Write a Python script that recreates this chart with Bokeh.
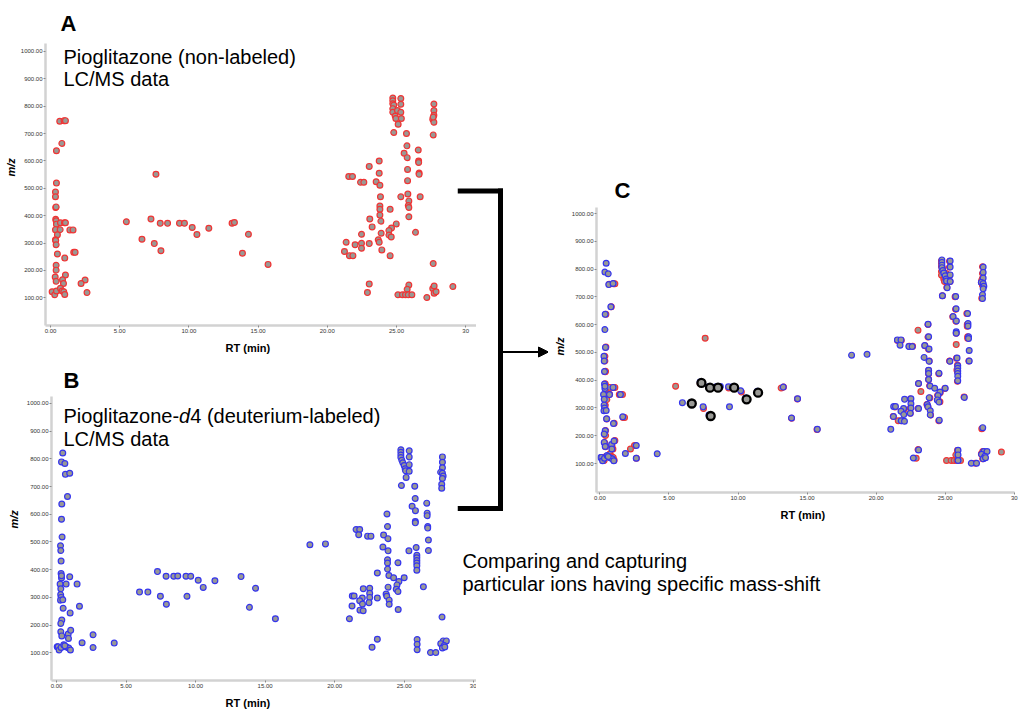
from bokeh.plotting import figure
from bokeh.models import (FixedTicker, PrintfTickFormatter, Label, Arrow, NormalHead, Range1d, Title)
from bokeh.layouts import row, column
from bokeh.embed import file_html
from bokeh.resources import INLINE

# ---------------- data ----------------
# Panel A: Pioglitazone (non-labeled), retention time (min) / m/z
rt_a = [0.67, 0.98, 1.08, 0.82, 0.43, 0.43, 0.36, 0.36, 0.38, 0.41, 0.38, 0.41, 0.43, 0.72, 1.01, 1.08,
        0.36, 0.70, 1.40, 1.63, 0.50, 0.36, 0.38, 0.41, 0.50, 1.68, 1.78, 1.03, 0.41, 0.41, 0.34, 1.08,
        0.41, 0.87, 0.94, 2.50, 2.21, 0.12, 0.31, 0.43, 0.72, 0.84, 0.96, 1.03, 2.64,
        5.48, 6.61, 7.26, 7.50, 7.62, 7.93, 7.98, 8.46, 9.32, 9.68, 10.24, 10.58, 11.44, 13.12, 13.29,
        13.87, 14.30, 15.72,
        24.73, 24.73, 24.73, 24.80, 24.73, 24.73, 24.90, 24.95, 25.07, 25.31, 25.31, 25.31, 25.35, 25.12,
        24.80, 25.72, 27.70, 27.70, 27.70, 27.62, 27.70, 27.65, 27.65,
        25.75, 26.57, 25.55, 25.77, 26.60, 26.60, 23.75, 23.03, 25.80, 23.75, 26.63, 26.63, 21.55, 21.82,
        22.40, 22.64, 23.53, 23.80, 25.80, 23.84, 25.31, 25.82, 26.71, 25.89, 25.85, 25.89, 23.80, 23.80,
        24.54, 23.80, 25.89, 23.07, 23.87, 23.24, 24.98, 24.64, 24.45, 22.47, 23.89, 26.37, 24.45, 24.62,
        21.36, 23.68, 23.75, 22.01, 22.47, 23.03, 22.47, 21.24, 23.94, 21.60, 21.85, 24.54, 27.65,
        23.03, 22.90, 25.89, 25.77, 25.10, 25.43, 25.65, 25.85, 26.11, 27.19, 27.62, 27.72, 27.72, 27.86,
        29.07]
mz_a = [745, 747, 747, 664, 637, 519, 486, 469, 430, 432, 387, 381, 369, 374, 374, 374,
        349, 349, 348, 348, 330, 312, 309, 294, 260, 266, 266, 245, 219, 201, 176, 183,
        160, 166, 152, 165, 152, 122, 111, 125, 135, 125, 122, 112, 119,
        378, 314, 388, 298, 551, 372, 272, 372, 372, 372, 357, 331, 354, 372, 375,
        263, 332, 222,
        830, 820, 809, 804, 791, 778, 764, 755, 784, 778, 828, 807, 755, 734,
        704, 700, 808, 784, 767, 752, 741, 760, 695,
        655, 640, 628, 612, 600, 594, 600, 580, 569, 555, 556, 551, 543, 543,
        522, 522, 524, 511, 528, 469, 469, 479, 469, 454, 437, 430, 435, 423,
        423, 402, 396, 388, 380, 359, 370, 355, 346, 332, 336, 339, 329, 322,
        303, 312, 303, 294, 299, 298, 281, 269, 275, 254, 254, 254, 225,
        150, 119, 147, 131, 111, 111, 111, 111, 111, 101, 134, 143, 117, 122,
        141]

# Panel B: Pioglitazone-d4 (deuterium-labeled)
rt_b = [0.45, 0.36, 0.60, 0.64, 0.95, 0.79, 0.38, 0.36, 0.40, 0.29, 0.31, 0.33, 0.33, 0.36, 0.36, 0.95,
        0.26, 0.69, 1.48, 0.31, 0.30, 0.33, 0.29, 0.45, 0.48, 1.65, 0.98, 0.38, 0.31, 0.31, 0.38, 0.84,
        1.02, 0.86, 2.63, 1.84, 4.15, 2.63, 0.05, 0.12, 0.19, 0.33, 0.52, 0.72, 0.88, 1.00, 0.60,
        7.26, 7.88, 8.43, 8.72, 9.31, 9.65, 10.19, 10.55, 11.39, 13.27, 14.31, 13.87, 15.74, 5.97, 6.57,
        7.47, 7.90, 9.38, 18.22, 19.34,
        24.76, 24.76, 24.76, 24.76, 24.83, 24.90, 25.00, 25.07, 25.10, 25.36, 25.36, 25.36, 25.36, 25.14,
        24.80, 25.76, 27.75, 27.75, 27.75, 27.62, 27.75, 27.80, 27.75, 27.70, 27.70, 27.72,
        25.79, 26.62, 25.57, 25.81, 26.65, 26.65, 23.76, 25.80, 25.80, 23.80, 26.69, 26.69, 21.54, 21.80,
        21.73, 22.37, 22.61, 23.52, 23.83, 26.74, 23.47, 23.84, 25.34, 25.86, 26.74, 25.91, 25.91, 25.91,
        25.91, 25.91, 25.91, 23.80, 23.80, 24.55, 23.80, 23.07, 23.90, 24.24, 25.00, 24.62, 24.48, 23.84,
        26.38, 22.06, 22.52, 24.43, 24.55, 22.52, 22.52, 22.47, 21.27, 21.40, 21.99, 21.80, 22.00, 23.07,
        23.70, 23.75, 23.92, 23.92, 21.25, 21.82, 22.05, 24.57, 21.06,
        23.07, 22.69, 25.93, 25.93, 25.93, 26.89, 27.27, 27.80, 28.03, 27.63, 27.87, 27.75, 27.92]
mz_b = [821, 789, 783, 744, 748, 664, 637, 582, 518, 486, 469, 431, 386, 370, 378, 374,
        348, 348, 348, 331, 310, 300, 290, 291, 261, 268, 244, 218, 206, 176, 161, 168,
        181, 152, 165, 136, 135, 119, 122, 122, 110, 119, 129, 121, 117, 110, 125,
        393, 376, 376, 377, 376, 376, 362, 336, 360, 375, 333, 264, 223, 319, 319,
        304, 275, 304, 490, 493,
        833, 824, 814, 805, 795, 786, 776, 764, 757, 829, 807, 779, 755, 733,
        704, 701, 807, 788, 768, 752, 748, 738, 729, 708, 694, 229,
        657, 640, 629, 613, 604, 595, 601, 574, 569, 556, 556, 550, 545, 545,
        526, 521, 521, 525, 512, 507, 482, 468, 468, 480, 469, 452, 443, 433,
        424, 414, 398, 436, 424, 425, 402, 388, 379, 371, 371, 357, 345, 337,
        338, 331, 333, 329, 321, 315, 300, 281, 305, 305, 298, 288, 276, 298,
        312, 304, 290, 275, 269, 254, 252, 256, 223,
        149, 120, 148, 131, 111, 101, 101, 143, 143, 133, 126, 117, 121]

# Panel C: ions captured with the specific mass shift (highlighted)
hl_rt = [6.65, 7.35, 7.97, 8.55, 9.72, 10.62, 11.45, 8.02]
hl_mz = [316, 390, 373, 373, 373, 331, 355, 271]

x_ticks = [0, 5, 10, 15, 20, 25, 30]
y_ticks = [100, 200, 300, 400, 500, 600, 700, 800, 900, 1000]
x_label = "RT (min)"
y_label = "m/z"

# ---------------- style ----------------
FONT = "Liberation Sans"
RED = "#f03434"
BLUE = "#3535ee"
FILL = "#999995"
MS, MLW = 5.8, 1.2


def panel(width, height, left, right, top, bottom, xr, yr, letter, l_off, l_stand,
          ylab_off, ylab_st, xlab_off, xlab_st):
    p = figure(width=width, height=height, x_range=xr, y_range=yr,
               output_backend="svg", toolbar_location=None,
               min_border_left=left, min_border_right=right,
               min_border_top=top, min_border_bottom=bottom)
    p.grid.visible = False
    p.outline_line_color = None
    p.xaxis.ticker = FixedTicker(ticks=x_ticks)
    p.yaxis.ticker = FixedTicker(ticks=y_ticks)
    p.xaxis.formatter = PrintfTickFormatter(format="%.2f")
    p.yaxis.formatter = PrintfTickFormatter(format="%.2f")
    p.xaxis.major_label_overrides = {30: "30"}
    for ax in (p.xaxis[0], p.yaxis[0]):
        ax.axis_line_color = "#d2d2d2"
        ax.axis_line_width = 2.5
        ax.major_tick_line_color = "#8a8a8a"
        ax.major_tick_out = 2
        ax.major_tick_in = 0
        ax.minor_tick_line_color = None
        ax.major_label_text_font = FONT
        ax.major_label_text_font_size = "6px"
        ax.major_label_text_color = "#333333"
        ax.major_label_standoff = 1
    p.title.text = letter
    p.title.text_font = FONT
    p.title.text_font_size = "22px"
    p.title.text_font_style = "bold"
    p.title.text_color = "black"
    p.title.text_line_height = 0.9
    p.title.align = "left"
    p.title.offset = l_off
    p.title.standoff = l_stand
    # axis titles, placed along the axes
    p.add_layout(Title(text=y_label, align="left", offset=ylab_off, standoff=ylab_st,
                       text_font=FONT, text_font_size="11px", text_font_style="bold italic",
                       text_color="black"), "left")
    p.add_layout(Title(text=x_label, align="left", vertical_align="top", offset=xlab_off,
                       standoff=xlab_st, text_font=FONT, text_font_size="11px",
                       text_font_style="bold", text_color="black"), "below")
    return p


def label(p, x, y, text, size="20px", style="normal"):
    p.add_layout(Label(x=x, y=y, x_units="screen", y_units="screen", text=text,
                       text_font=FONT, text_font_size=size, text_font_style=style,
                       text_color="black", text_align="left", text_baseline="alphabetic"))


# ---------------- panel A ----------------
pa = panel(476, 362, 45, 0, 40, 37, (-0.36, 30.78), (-1.2, 1028.9), "A", 15, 16, 149, 2, 180, 12)
pa.scatter(rt_a, mz_a, marker="circle", size=MS, fill_color=FILL, line_color=RED, line_width=MLW)
label(pa, 18, 269, "Pioglitazone (non-labeled)")
label(pa, 18, 246.7, "LC/MS data")

# ---------------- panel B ----------------
pb = panel(476, 355, 51, 0, 31, 37, (-0.36, 30.2), (0, 1025), "B", 12, 7, 152, 8, 174, 12)
pb.scatter(rt_b, mz_b, marker="circle", size=MS, fill_color=FILL, line_color=BLUE, line_width=MLW)
label(pb, 12, 265, "Pioglitazone-")
label(pb, 127.6, 265, "d", "20px", "italic")
label(pb, 138.7, 265, "4 (deuterium-labeled)")
label(pb, 12, 241.7, "LC/MS data")

# ---------------- bracket + arrow strip (transparent, overlaps the right edge of A and B) ----
pm = figure(width=91, height=717, x_range=Range1d(457, 548), y_range=Range1d(717, 0),
            x_axis_type=None, y_axis_type=None, output_backend="svg", toolbar_location=None,
            min_border=0)
pm.outline_line_color = None
pm.background_fill_alpha = 0
pm.border_fill_alpha = 0
pm.segment(x0=[457, 500, 457], y0=[190.5, 188, 508], x1=[502.5, 500, 502.5], y1=[190.5, 510.5, 508],
           line_color="black", line_width=5)
pm.add_layout(Arrow(x_start=500, y_start=351.5, x_end=548, y_end=351.5,
                    end=NormalHead(size=10, fill_color="black", line_color="black"),
                    line_color="black", line_width=2))
pm.margin = (0, 0, 0, -19)

# ---------------- panel C ----------------
pc = panel(476, 540, 48, 10, 207, 48, (-0.25, 30.02), (-4.4, 1021.6), "C", 18, 10, 137, 5, 184, 12)
pc.scatter(rt_a, mz_a, marker="circle", size=MS, fill_color=FILL, line_color=RED, line_width=MLW)
pc.scatter(rt_b, mz_b, marker="circle", size=MS, fill_color=FILL, line_color=BLUE, line_width=MLW)
pc.scatter(hl_rt, hl_mz, marker="circle", size=8, fill_color=FILL, line_color="black", line_width=2.3)

# ---------------- caption strip ----------------
pt = figure(width=548, height=177, x_range=Range1d(462, 1010), y_range=Range1d(717, 540),
            x_axis_type=None, y_axis_type=None, output_backend="svg", toolbar_location=None,
            min_border=0)
pt.outline_line_color = None
pt.background_fill_alpha = 0
pt.border_fill_alpha = 0
for yy, s in [(560.5, "Comparing and capturing"), (583, "particular ions having specific mass-shift")]:
    pt.add_layout(Label(x=462, y=yy, text=s, text_font=FONT, text_font_size="20px",
                        text_color="black", text_align="left", text_baseline="alphabetic"))
pt.margin = (0, 0, 0, -86)

# each plot wrapped on its own so that the layout does not align their frames
layout = row(column(row(pa), row(pb)), pm, column(row(pc), row(pt)))
open("out.html", "w").write(file_html(layout, INLINE))
